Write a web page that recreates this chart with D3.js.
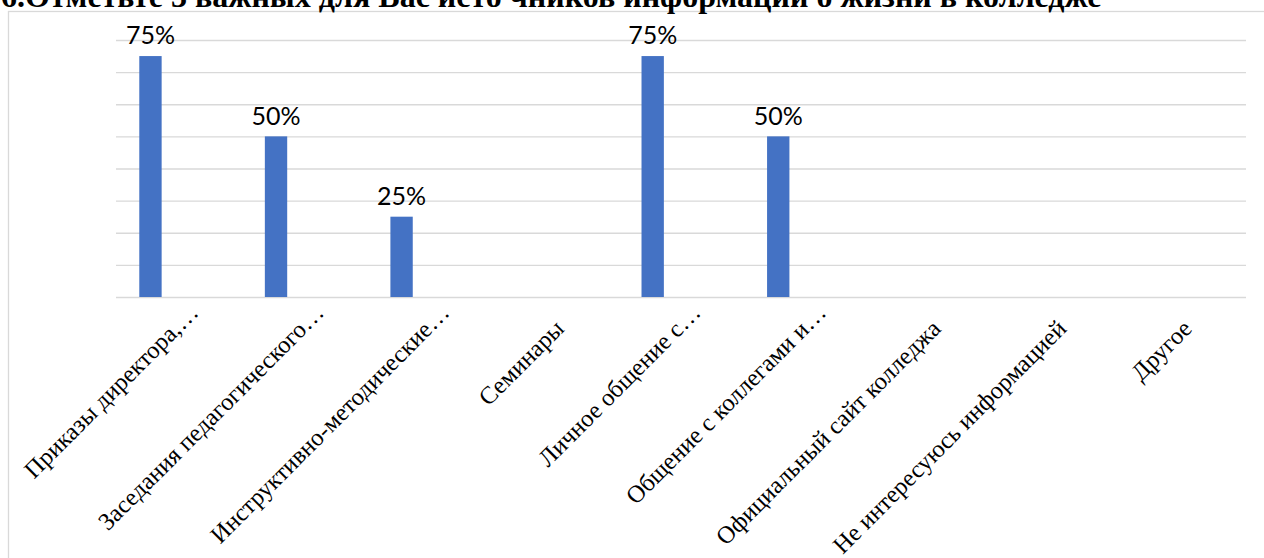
<!DOCTYPE html>
<html><head><meta charset="utf-8">
<script src="https://cdn.jsdelivr.net/npm/d3@7"></script>
<style>html,body{margin:0;padding:0;background:#fff;overflow:hidden}</style>
</head><body>
<svg id="chart" width="1264" height="558"></svg>
<script>
const titleText = "6.Отметьте 3 важных для Вас исто чников информации о жизни в колледже";
const categories = [
  "Приказы директора,…",
  "Заседания педагогического…",
  "Инструктивно-методические…",
  "Семинары",
  "Личное общение с…",
  "Общение с коллегами и…",
  "Официальный сайт колледжа",
  "Не интересуюсь информацией",
  "Другое"
];
const values = [75, 50, 25, null, 75, 50, null, null, null];
const gridTicks = [0, 10, 20, 30, 40, 50, 60, 70, 80];

const svg = d3.select("#chart");
const plot = {left: 116, right: 1246, top: 40, bottom: 297};
const x = d3.scaleBand().domain(categories).range([plot.left, plot.right]).padding(0);
const y = d3.scaleLinear().domain([0, 80]).range([plot.bottom, plot.top]);
const bw = x.bandwidth();

// chart frame
svg.append("rect").attr("x", 8.5).attr("y", 11.5).attr("width", 1400).attr("height", 700)
  .attr("fill", "none").attr("stroke", "#d9d9d9").attr("stroke-width", 1.3);

// title
const title = svg.append("text").attr("x", 1).attr("y", 7)
  .attr("font-family", "'Liberation Serif','Times New Roman',serif")
  .attr("font-weight", "bold").attr("font-size", 24).attr("fill", "#000")
  .text(titleText);
const tw = title.node().getComputedTextLength();
title.attr("font-size", 24 * 1101 / tw);

// gridlines
const grid = svg.append("g").attr("transform", `translate(${plot.left},0)`)
  .call(d3.axisLeft(y).tickValues(gridTicks).tickSize(-(plot.right - plot.left)).tickFormat(""));
grid.select(".domain").remove();
grid.selectAll(".tick line").attr("stroke", "#d9d9d9").attr("stroke-width", 1.3);

// bars
const data = categories.map((c, i) => ({c, v: values[i]})).filter(d => d.v != null);
svg.append("g").selectAll("rect").data(data).join("rect")
  .attr("x", d => x(d.c) + bw * 0.1855)
  .attr("width", bw * 0.178)
  .attr("y", d => y(d.v))
  .attr("height", d => y(0) - y(d.v))
  .attr("fill", "#4472C4");

// data labels
svg.append("g").selectAll("text").data(data).join("text")
  .attr("x", d => x(d.c) + bw * 0.1855 + bw * 0.089)
  .attr("y", d => y(d.v) - 11.7)
  .attr("text-anchor", "middle")
  .attr("font-family", "Lato, 'Open Sans', sans-serif")
  .attr("font-size", 25).attr("fill", "#000")
  .text(d => d.v + "%");

// category labels
svg.append("g").selectAll("text").data(categories).join("text")
  .attr("transform", c => {
    const cx = x(c) + bw / 2;
    const trunc = c.endsWith("…");
    const ax = cx + (trunc ? 21 : 10);
    const ay = trunc ? 314 : 330;
    return `translate(${ax},${ay}) rotate(-45)`;
  })
  .attr("text-anchor", "end")
  .attr("font-family", "'Liberation Serif','Times New Roman',serif")
  .attr("font-size", 24.5).attr("fill", "#000")
  .text(c => c);
</script>
</body></html>
